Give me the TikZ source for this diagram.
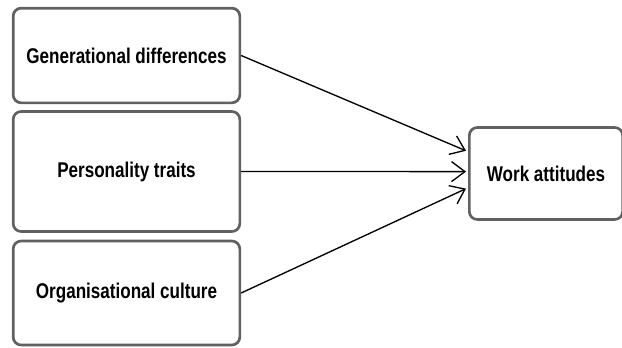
\documentclass[tikz,border=0pt]{standalone}
\usepackage{fontspec}
\setmainfont{Liberation Sans}
\newfontfamily\boxfont[FakeStretch=0.8]{Liberation Sans}
\usepackage{tikz}
\usetikzlibrary{arrows.meta,calc}

\begin{document}
\begin{tikzpicture}[x=0.75pt,y=0.75pt,yscale=-1,xscale=1,
  factorbox/.style={draw=black!62,line width=2pt,rounded corners=6pt,fill=white,
    font=\boxfont\bfseries\fontsize{16}{19}\selectfont,inner sep=0.75pt},
  link/.style={line width=1pt,-{Straight Barb[length=10pt,width=15pt,line width=1pt]}}]
\useasboundingbox (0,0) rectangle (622,347);

% Text Node
\node [factorbox,minimum width=170pt,minimum height=71pt] (gen) at (126.5,55.5) {Generational differences};
% Text Node
\node [factorbox,minimum width=170pt,minimum height=90pt] (pers) at (126.5,171.5) {Personality traits};
% Text Node
\node [factorbox,minimum width=170pt,minimum height=78pt] (org) at (126.5,293) {Organisational culture};
% Text Node
\node [factorbox,minimum width=115pt,minimum height=69pt] (work) at (546,173.5) {Work attitudes};
% Connection
\draw [link] (gen.east) -- ($(work.north west)!0.26!(work.south west)+(-2,0)$);
% Connection
\draw [link] (pers.east) -- ($(work.north west)!0.48!(work.south west)+(-2,0)$);
% Connection
\draw [link] (org.east) -- ($(work.north west)!0.66!(work.south west)+(-2,0)$);

\end{tikzpicture}
\end{document}
